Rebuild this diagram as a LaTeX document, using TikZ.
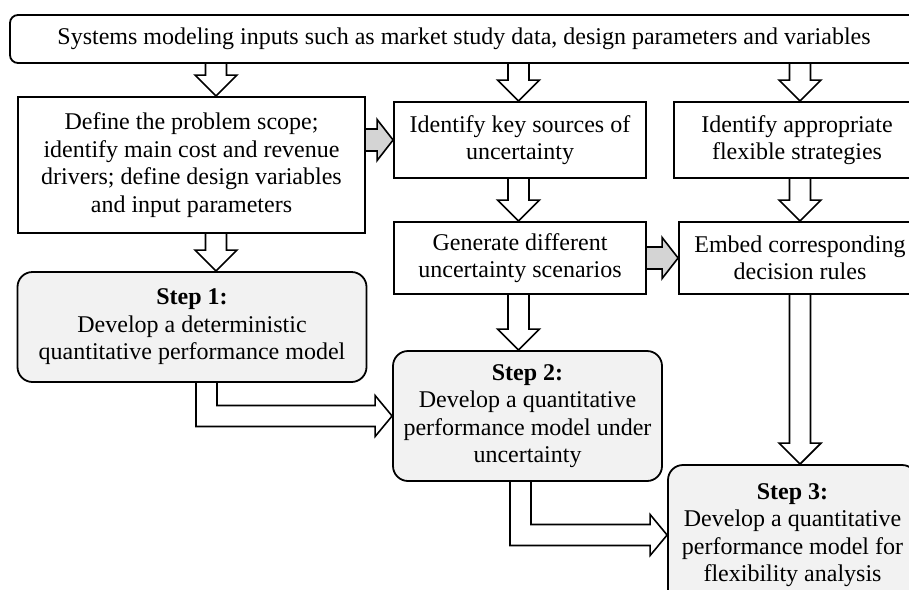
\documentclass[tikz,border=0pt]{standalone}
\usepackage{fontspec}
\setmainfont{Liberation Serif}
\usetikzlibrary{calc}
\pgfdeclarelayer{bg}
\pgfsetlayers{bg,main}

% downward block arrow: style, source node, target node, x position
\newcommand\vblk[4][blk]{%
  \draw[#1] let \p1=(#2.south), \p2=(#3.north) in
    (#4pt-10.5pt,\y1) -- (#4pt-10.5pt,\y2+21pt) -- (#4pt-21pt,\y2+21pt)
    -- (#4pt,\y2) -- (#4pt+21pt,\y2+21pt) -- (#4pt+10.5pt,\y2+21pt)
    -- (#4pt+10.5pt,\y1);}
% rightward block arrow between neighbouring boxes
\newcommand\hblk[3][gblk]{%
  \draw[#1] let \p1=(#2.east), \p2=(#3.west) in
    (\x1,\y2+11pt) -- (\x2-16pt,\y2+11pt) -- (\x2-16pt,\y2+20.5pt)
    -- (\x2,\y2) -- (\x2-16pt,\y2-20.5pt) -- (\x2-16pt,\y2-11pt)
    -- (\x1,\y2-11pt);}
% elbow block arrow: down from source at x, then right into target
\newcommand\lblk[4][blk]{%
  \draw[#1] let \p1=(#2.south), \p2=(#3.west) in
    (#4pt-10.5pt,\y1) -- (#4pt-10.5pt,\y2-10.5pt) -- (\x2-17pt,\y2-10.5pt)
    -- (\x2-17pt,\y2-20.5pt) -- (\x2,\y2) -- (\x2-17pt,\y2+20.5pt)
    -- (\x2-17pt,\y2+10.5pt) -- (#4pt+10.5pt,\y2+10.5pt)
    -- (#4pt+10.5pt,\y1);}

\begin{document}
\begin{tikzpicture}[x=1pt,y=-1pt,
  every node/.style={font=\fontsize{24}{27.5}\selectfont, align=center,
    inner sep=0pt, line width=1.8pt},
  plainbox/.style={draw, fill=white, rectangle},
  topbox/.style={draw, fill=white, rounded corners=8pt},
  stepbox/.style={draw, fill=black!5, rounded corners=15pt},
  blk/.style={draw, line width=1.6pt, fill=white, line join=miter},
  gblk/.style={draw, line width=1.6pt, fill=black!17, line join=miter}]
\useasboundingbox (0,0) rectangle (909,589);
\clip (0,0) rectangle (909,589);

\node[topbox, minimum width=908pt, minimum height=48pt] (inputs) at (464,39)
  {Systems modeling inputs such as market study data, design parameters and variables};

\node[plainbox, minimum width=347pt, minimum height=136pt] (scope) at (191.5,165)
  {Define the problem scope;\\ identify main cost and revenue\\ drivers; define design variables\\ and input parameters};
\node[plainbox, minimum width=252pt, minimum height=76pt] (sources) at (520,140)
  {Identify key sources of\\ uncertainty};
\node[plainbox, minimum width=246pt, minimum height=76pt] (strat) at (797,140)
  {Identify appropriate\\ flexible strategies};
\node[plainbox, minimum width=252pt, minimum height=72pt] (scen) at (520,258)
  {Generate different\\ uncertainty scenarios};
\node[plainbox, minimum width=242pt, minimum height=72pt] (rules) at (800,258)
  {Embed corresponding\\ decision rules};

\node[stepbox, minimum width=349pt, minimum height=110pt] (s1) at (192,327)
  {\textbf{Step 1:}\\ Develop a deterministic\\ quantitative performance model};
\node[stepbox, minimum width=269pt, minimum height=130pt] (s2) at (527.5,416)
  {\textbf{Step 2:}\\ Develop a quantitative\\ performance model under\\ uncertainty};
\node[stepbox, minimum width=249pt, minimum height=140pt] (s3) at (792.5,535)
  {\textbf{Step 3:}\\ Develop a quantitative\\ performance model for\\ flexibility analysis};

\begin{pgfonlayer}{bg}
  \vblk{inputs}{scope}{216}
  \vblk{inputs}{sources}{518.5}
  \vblk{inputs}{strat}{800}
  \vblk{scope}{s1}{216}
  \vblk{sources}{scen}{518.5}
  \vblk{strat}{rules}{800}
  \vblk{scen}{s2}{518.5}
  \vblk{rules}{s3}{800}
  \hblk{scope}{sources}
  \hblk{scen}{rules}
  \lblk{s1}{s2}{206.5}
  \lblk{s2}{s3}{520.5}
\end{pgfonlayer}
\end{tikzpicture}
\end{document}
